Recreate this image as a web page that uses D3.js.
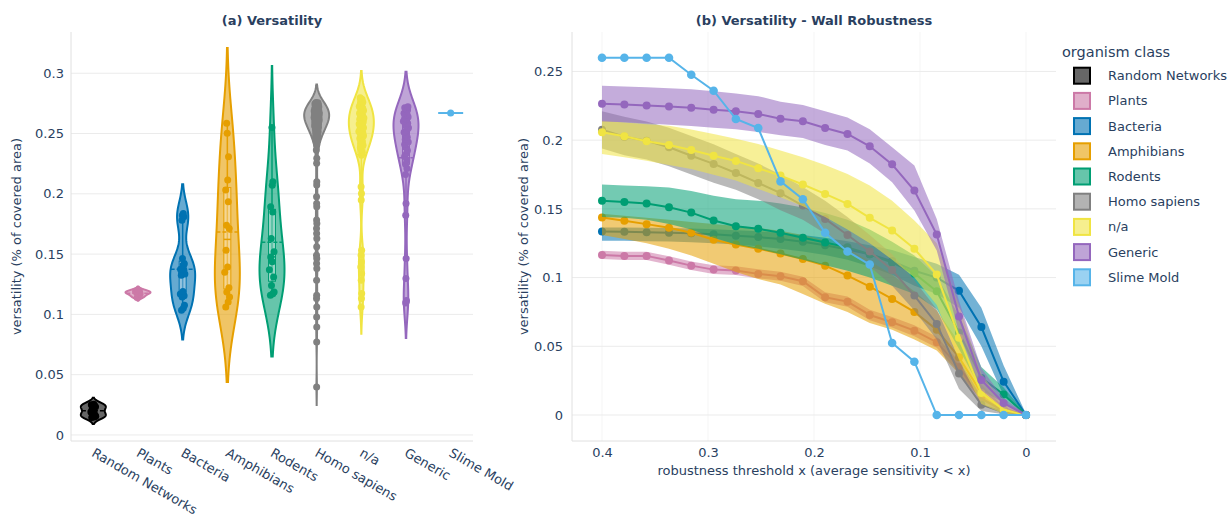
<!DOCTYPE html>
<html><head><meta charset="utf-8">
<script src="https://cdn.jsdelivr.net/npm/d3@7/dist/d3.min.js"></script>
<style>
body{margin:0;background:#fff;}
svg text{font-family:"DejaVu Sans",Verdana,sans-serif;fill:#2a3f5f;}
</style></head><body>
<svg id="c" width="1230" height="516"></svg>
<script>
// ---------- categories & colours ----------
const classes = ["Random Networks","Plants","Bacteria","Amphibians","Rodents","Homo sapiens","n/a","Generic","Slime Mold"];
const classColors = ["#000000","#CC79A7","#0072B2","#E69F00","#009E73","#808080","#F0E442","#9467BD","#56B4E9"];

// ---------- (a) versatility samples per class ----------
const vRandomNetworks = [0.0145,0.015,0.0155,0.016,0.0165,0.019,0.02,0.021,0.0235,0.024,0.0245,0.025,0.0255];
const vPlants = [0.114,0.1155,0.117,0.118,0.1185,0.119,0.1205];
const vBacteria = [0.1837,0.182,0.181,0.178,0.1463,0.142,0.141,0.1375,0.1366,0.1345,0.1335,0.1325,0.119,0.117,0.1155,0.1145,0.1076,0.105,0.1034];
const vAmphibians = [0.2585,0.2502,0.2308,0.2114,0.2031,0.1934,0.174,0.1712,0.1532,0.1394,0.135,0.122,0.1186,0.1145,0.1103,0.1062];
const vRodents = [0.2551,0.21,0.2072,0.1892,0.185,0.163,0.1519,0.1477,0.1436,0.137,0.131,0.124,0.1185,0.1172,0.1159];
const vHomoSapiens = [0.2405,0.2363,0.2294,0.2253,0.21,0.2073,0.1976,0.192,0.1893,0.1782,0.1754,0.1713,0.1671,0.163,0.1561,0.1491,0.1464,0.1422,0.1381,0.1284,0.1159,0.1132,0.1062,0.0979,0.0896,0.0772,0.0398,
 0.243,0.2442,0.2455,0.2465,0.2475,0.2484,0.2492,0.25,0.2507,0.2514,
 0.252,0.2526,0.2532,0.2538,0.2543,0.2548,0.2553,0.2558,0.2563,0.2567,
 0.2571,0.2575,0.2579,0.2583,0.2587,0.2591,0.2595,0.2599,0.2602,0.2605,
 0.2608,0.2611,0.2614,0.2617,0.262,0.2623,0.2626,0.2629,0.2632,0.2635,
 0.2638,0.2641,0.2644,0.2647,0.265,0.2652,0.2655,0.2657,0.266,0.2662,
 0.2665,0.2667,0.267,0.2672,0.2675,0.2677,0.268,0.2683,0.2686,0.2689,
 0.2692,0.2695,0.2698,0.2701,0.2704,0.2707,0.271,0.2713,0.2716,0.2719,
 0.2722,0.2725,0.2728,0.2731,0.2734,0.2737,0.274,0.2743,0.2746,0.2749,
 0.2752,0.2755,0.2758];
const vNA = [0.2059,0.2003,0.1948,0.1533,0.1491,0.1436,0.1394,0.1339,0.1284,0.1173,0.1132,0.1062,
 0.232,0.2345,0.2365,0.2385,0.2402,0.2418,0.2432,0.2445,0.2458,0.247,
 0.2482,0.2494,0.2505,0.2516,0.2527,0.2538,0.2548,0.2558,0.2568,0.2578,
 0.2588,0.2598,0.2608,0.2618,0.2628,0.2638,0.2648,0.2658,0.2668,0.2679,
 0.269,0.2701,0.2712,0.2724,0.2736,0.2748,0.276,0.2772,0.2784,0.2796];
const vGeneric = [0.192,0.1823,0.1464,0.1298,0.1115,0.1104,0.1095,
 0.216,0.221,0.2245,0.228,0.231,0.2335,0.236,0.2385,0.2408,0.243,
 0.245,0.247,0.249,0.251,0.253,0.2548,0.2565,0.2585,0.2602,0.262,
 0.2625,0.2638,0.265,0.2655,0.2668,0.2682,0.2695,0.2705,0.2714,0.2723];
const vSlimeMold = [0.267];
const violinValues = [vRandomNetworks,vPlants,vBacteria,vAmphibians,vRodents,vHomoSapiens,vNA,vGeneric,vSlimeMold];
const leftYTicks = [0,0.05,0.1,0.15,0.2,0.25,0.3];

// ---------- (b) robustness curves ----------
const thresholds = [0.4,0.3789,0.3579,0.3368,0.3158,0.2947,0.2737,0.2526,0.2316,0.2105,0.1895,0.1684,0.1474,0.1263,0.1053,0.0842,0.0632,0.0421,0.0211,0];
const plantsMean  = [0.1165,0.1158,0.1158,0.1124,0.1087,0.1058,0.1051,0.1027,0.101,0.0973,0.0857,0.0825,0.0728,0.0675,0.0614,0.053,0.035,0.012,0.003,0];
const plantsUpper = [0.1195,0.1188,0.1188,0.1155,0.1118,0.109,0.1083,0.106,0.1043,0.1007,0.0893,0.0862,0.0766,0.0714,0.0654,0.057,0.039,0.015,0.004,0.0003];
const plantsLower = [0.1135,0.1128,0.1128,0.1093,0.1056,0.1026,0.1019,0.0994,0.0977,0.0939,0.0821,0.0788,0.069,0.0636,0.0574,0.049,0.031,0.009,0.002,0];
const bacteriaMean  = [0.1335,0.1333,0.133,0.1327,0.1322,0.1315,0.1305,0.1295,0.128,0.126,0.1235,0.1205,0.117,0.112,0.105,0.1,0.0904,0.064,0.0243,0];
const bacteriaUpper = [0.1365,0.1365,0.1363,0.136,0.1357,0.1352,0.1345,0.1337,0.1325,0.131,0.129,0.1265,0.1235,0.12,0.115,0.11,0.102,0.078,0.036,0.001];
const bacteriaLower = [0.1268,0.1268,0.1265,0.1262,0.1257,0.125,0.124,0.1228,0.121,0.119,0.1165,0.113,0.108,0.102,0.094,0.088,0.078,0.05,0.014,0];
const amphibiansMean  = [0.1437,0.1413,0.1389,0.1362,0.1326,0.1275,0.124,0.121,0.1175,0.1135,0.1087,0.1015,0.0934,0.0845,0.075,0.062,0.042,0.016,0.004,0];
const amphibiansUpper = [0.1465,0.145,0.1435,0.142,0.1405,0.139,0.1375,0.136,0.134,0.131,0.127,0.121,0.112,0.102,0.09,0.076,0.053,0.022,0.006,0.0005];
const amphibiansLower = [0.131,0.128,0.125,0.121,0.116,0.11,0.104,0.099,0.095,0.088,0.081,0.075,0.067,0.062,0.055,0.047,0.03,0.011,0.002,0];
const rodentsMean  = [0.156,0.155,0.1539,0.1512,0.1473,0.1415,0.1374,0.1355,0.1326,0.129,0.1255,0.122,0.117,0.111,0.103,0.09,0.06,0.027,0.015,0];
const rodentsUpper = [0.1677,0.167,0.1665,0.1655,0.163,0.1595,0.157,0.156,0.154,0.151,0.147,0.142,0.135,0.126,0.116,0.101,0.072,0.035,0.02,0.001];
const rodentsLower = [0.144,0.1435,0.142,0.139,0.135,0.129,0.124,0.121,0.117,0.113,0.109,0.105,0.1,0.094,0.088,0.077,0.048,0.018,0.009,0];
const homoMean  = [0.2076,0.2025,0.1996,0.1948,0.1887,0.1827,0.1761,0.1689,0.1614,0.1524,0.1427,0.131,0.119,0.1056,0.0869,0.0663,0.0303,0.0075,0.002,0];
const homoUpper = [0.221,0.217,0.2135,0.209,0.203,0.197,0.19,0.183,0.175,0.166,0.156,0.144,0.131,0.117,0.098,0.077,0.041,0.013,0.004,0.0005];
const homoLower = [0.194,0.189,0.186,0.181,0.175,0.169,0.164,0.157,0.149,0.142,0.132,0.12,0.108,0.094,0.076,0.055,0.019,0.003,0.0005,0];
const naMean  = [0.2057,0.2028,0.1992,0.1965,0.1929,0.1887,0.1849,0.1795,0.1742,0.1677,0.1609,0.1536,0.1435,0.1343,0.121,0.1022,0.0563,0.016,0.0038,0];
const naUpper = [0.2142,0.2128,0.2115,0.2105,0.2078,0.2045,0.201,0.1972,0.1925,0.1875,0.182,0.1754,0.167,0.156,0.1415,0.125,0.08,0.03,0.008,0.0005];
const naLower = [0.19,0.1875,0.185,0.182,0.179,0.1748,0.1706,0.1645,0.1585,0.152,0.144,0.135,0.125,0.113,0.1,0.08,0.04,0.008,0.001,0];
const genericMean  = [0.2265,0.226,0.2253,0.2245,0.2236,0.2222,0.221,0.219,0.2156,0.2137,0.2088,0.2045,0.1955,0.1824,0.1633,0.1313,0.0716,0.0255,0.0087,0];
const genericUpper = [0.2395,0.239,0.2385,0.2378,0.237,0.2355,0.234,0.232,0.228,0.2255,0.221,0.2165,0.208,0.1948,0.1815,0.1427,0.083,0.034,0.012,0.001];
const genericLower = [0.2135,0.213,0.2122,0.2113,0.2103,0.209,0.208,0.206,0.2035,0.2015,0.1965,0.1925,0.183,0.1694,0.1488,0.1197,0.06,0.018,0.005,0];
const slimeMean = [0.26,0.26,0.26,0.26,0.2476,0.236,0.2154,0.2088,0.17,0.157,0.1326,0.119,0.1095,0.0524,0.0388,0,0,0,0,0];
const rightYTicks = [0,0.05,0.1,0.15,0.2,0.25];
const rightXTicks = [0.4,0.3,0.2,0.1,0];

const curves = [
  {cls:1, mean:plantsMean, up:plantsUpper, lo:plantsLower},
  {cls:2, mean:bacteriaMean, up:bacteriaUpper, lo:bacteriaLower},
  {cls:3, mean:amphibiansMean, up:amphibiansUpper, lo:amphibiansLower},
  {cls:4, mean:rodentsMean, up:rodentsUpper, lo:rodentsLower},
  {cls:5, mean:homoMean, up:homoUpper, lo:homoLower},
  {cls:6, mean:naMean, up:naUpper, lo:naLower},
  {cls:7, mean:genericMean, up:genericUpper, lo:genericLower},
  {cls:8, mean:slimeMean, up:null, lo:null}
];

// fixed (non-random) jitter pattern for sample points, fraction of local violin half-width
const jitterPattern = [-0.7,0.35,0.9,-0.2,0.6,-0.95,0.1,-0.5,0.8,-0.35,0.45,-0.8,0.2,0.7,-0.1,-0.6,0.95,-0.3,0.5,0];

// ---------- drawing ----------
const svg = d3.select("#c");
const fmt = v => String(+v.toFixed(2));
const rgba = (c,a) => { const r = d3.rgb(c); return `rgba(${r.r},${r.g},${r.b},${a})`; };
const GRID = "#ebebeb", AXIS = "#e0e0e0";

// ===== panel (a) =====
const L = {left:71, right:473, top:32, bottom:441};
const xa = d3.scaleBand().domain(classes).range([L.left, L.right]);
const ya = d3.scaleLinear().domain([-0.005, 0.3342]).range([L.bottom, L.top]);
const ga = svg.append("g");
ga.selectAll("line.grid").data(leftYTicks).join("line")
  .attr("x1",L.left).attr("x2",L.right).attr("y1",d=>ya(d)).attr("y2",d=>ya(d))
  .attr("stroke",GRID).attr("stroke-width",1);
ga.append("line").attr("x1",L.left).attr("x2",L.left).attr("y1",L.top).attr("y2",L.bottom).attr("stroke",AXIS);
ga.append("line").attr("x1",L.left).attr("x2",L.right).attr("y1",L.bottom).attr("y2",L.bottom).attr("stroke",AXIS);
const yAxA = ga.append("g").attr("transform",`translate(${L.left-4},0)`)
  .call(d3.axisLeft(ya).tickValues(leftYTicks).tickFormat(fmt).tickSize(0));
yAxA.select(".domain").remove();
yAxA.selectAll("text").attr("font-size",13).attr("font-family","DejaVu Sans").attr("fill","#2a3f5f");
const xAxA = ga.append("g").attr("transform",`translate(0,${L.bottom+6})`)
  .call(d3.axisBottom(xa).tickSize(0));
xAxA.select(".domain").remove();
xAxA.selectAll("text").attr("font-size",13).attr("font-family","DejaVu Sans").attr("fill","#2a3f5f")
  .attr("text-anchor","start").attr("dy","0.35em").attr("y",0).attr("x",0)
  .attr("transform","rotate(30) translate(2,4)");

function violin(vals, ci){
  const color = classColors[ci];
  const cx = xa(classes[ci]) + xa.bandwidth()/2;
  const HW = 12.5;
  const s = vals.slice().sort(d3.ascending);
  const n = s.length, mn = s[0], mx = s[n-1];
  const g = ga.append("g");
  if (mx - mn === 0){
    g.append("line").attr("x1",cx-HW).attr("x2",cx+HW).attr("y1",ya(mn)).attr("y2",ya(mn))
      .attr("stroke",color).attr("stroke-width",2);
    g.append("circle").attr("cx",cx).attr("cy",ya(mn)).attr("r",3.5).attr("fill",color);
    return;
  }
  const mean = d3.mean(s), sd = d3.deviation(s);
  const q1 = d3.quantile(s,0.25), q2 = d3.quantile(s,0.5), q3 = d3.quantile(s,0.75);
  const bw = Math.max(1.059*Math.min(sd,(q3-q1)/1.349)*Math.pow(n,-0.2), (mx-mn)/100);
  const lo = mn-2*bw, hi = mx+2*bw;
  const kde = v => d3.sum(s, xi => Math.exp(-0.5*((v-xi)/bw)**2));
  const steps = d3.range(0,201).map(i => lo + (hi-lo)*i/200);
  const dens = steps.map(v => ({v, d:kde(v)}));
  const maxd = d3.max(dens, d=>d.d);
  const hwAt = v => HW*kde(v)/maxd;
  const area = d3.area().y(d=>ya(d.v)).x0(d=>cx - HW*d.d/maxd).x1(d=>cx + HW*d.d/maxd);
  g.append("path").attr("d",area(dens)).attr("fill",rgba(color,0.6)).attr("stroke",color).attr("stroke-width",2);
  // inner box
  const iqr = q3-q1;
  const wLo = d3.min(s.filter(v=>v>=q1-1.5*iqr)), wHi = d3.max(s.filter(v=>v<=q3+1.5*iqr));
  g.append("line").attr("x1",cx).attr("x2",cx).attr("y1",ya(wLo)).attr("y2",ya(wHi)).attr("stroke",color).attr("stroke-width",1.5);
  g.append("rect").attr("x",cx-3.5).attr("width",7).attr("y",ya(q3)).attr("height",ya(q1)-ya(q3))
    .attr("fill","rgba(255,255,255,0.3)").attr("stroke",color).attr("stroke-width",1);
  g.append("line").attr("x1",cx-3.5).attr("x2",cx+3.5).attr("y1",ya(q2)).attr("y2",ya(q2)).attr("stroke",color).attr("stroke-width",1.5);
  // mean line across the violin
  const wm = hwAt(mean);
  g.append("line").attr("x1",cx-wm).attr("x2",cx+wm).attr("y1",ya(mean)).attr("y2",ya(mean))
    .attr("stroke",color).attr("stroke-width",1.5).attr("stroke-dasharray","4,2");
  // points (slightly jittered inside the violin with a fixed pattern)
  g.selectAll("circle").data(s).join("circle")
    .attr("cx",(d,i)=>cx + 0.22*hwAt(d)*jitterPattern[i % jitterPattern.length])
    .attr("cy",d=>ya(d)).attr("r",3.5).attr("fill",color);
}
violinValues.forEach((v,i)=>violin(v,i));

svg.append("text").attr("x",(L.left+L.right)/2).attr("y",25).attr("text-anchor","middle")
  .attr("font-size",13).attr("font-weight","bold").text("(a) Versatility");
svg.append("text").attr("transform",`translate(21,${(L.top+L.bottom)/2}) rotate(-90)`)
  .attr("text-anchor","middle").attr("font-size",13).text("versatility (% of covered area)");

// ===== panel (b) =====
const R = {left:572, right:1056, top:32, bottom:441};
const xb = d3.scaleLinear().domain([0.4283,-0.0283]).range([R.left,R.right]);
const yb = d3.scaleLinear().domain([-0.0189,0.2787]).range([R.bottom,R.top]);
const gb = svg.append("g");
gb.selectAll("line.vg").data(rightXTicks).join("line")
  .attr("x1",d=>xb(d)).attr("x2",d=>xb(d)).attr("y1",R.top).attr("y2",R.bottom).attr("stroke","#f5f5f5");
gb.selectAll("line.hg").data(rightYTicks).join("line")
  .attr("x1",R.left).attr("x2",R.right).attr("y1",d=>yb(d)).attr("y2",d=>yb(d)).attr("stroke",GRID);
gb.append("line").attr("x1",R.left).attr("x2",R.left).attr("y1",R.top).attr("y2",R.bottom).attr("stroke",AXIS);
gb.append("line").attr("x1",R.left).attr("x2",R.right).attr("y1",R.bottom).attr("y2",R.bottom).attr("stroke",AXIS);
const yAxB = gb.append("g").attr("transform",`translate(${R.left-6},0)`)
  .call(d3.axisLeft(yb).tickValues(rightYTicks).tickFormat(fmt).tickSize(0));
yAxB.select(".domain").remove();
yAxB.selectAll("text").attr("font-size",13).attr("font-family","DejaVu Sans").attr("fill","#2a3f5f");
const xAxB = gb.append("g").attr("transform",`translate(0,${R.bottom+4})`)
  .call(d3.axisBottom(xb).tickValues(rightXTicks).tickFormat(fmt).tickSize(0));
xAxB.select(".domain").remove();
xAxB.selectAll("text").attr("font-size",13).attr("font-family","DejaVu Sans").attr("fill","#2a3f5f");

curves.forEach(c=>{
  const color = classColors[c.cls];
  const g = gb.append("g");
  if (c.up){
    const area = d3.area().x((d,i)=>xb(thresholds[i])).y0((d,i)=>yb(c.lo[i])).y1((d,i)=>yb(c.up[i]));
    g.append("path").attr("d",area(c.mean)).attr("fill",rgba(color,0.55)).attr("stroke","none");
  }
  const line = d3.line().x((d,i)=>xb(thresholds[i])).y(d=>yb(d));
  g.append("path").attr("d",line(c.mean)).attr("fill","none").attr("stroke",color).attr("stroke-width",2);
  g.selectAll("circle").data(c.mean).join("circle")
    .attr("cx",(d,i)=>xb(thresholds[i])).attr("cy",d=>yb(d)).attr("r",c.up ? 4 : 4.3).attr("fill",color);
});

svg.append("text").attr("x",(R.left+R.right)/2).attr("y",25).attr("text-anchor","middle")
  .attr("font-size",13).attr("font-weight","bold").text("(b) Versatility - Wall Robustness");
svg.append("text").attr("transform",`translate(528,${(R.top+R.bottom)/2}) rotate(-90)`)
  .attr("text-anchor","middle").attr("font-size",13).text("versatility (% of covered area)");
svg.append("text").attr("x",(R.left+R.right)/2).attr("y",475).attr("text-anchor","middle")
  .attr("font-size",13).text("robustness threshold x (average sensitivity < x)");

// ===== legend =====
const lg = svg.append("g");
lg.append("text").attr("x",1062).attr("y",57).attr("font-size",14.5).text("organism class");
classes.forEach((c,i)=>{
  const yy = 75.7 + i*25.2;
  lg.append("rect").attr("x",1074).attr("y",yy-8).attr("width",16).attr("height",16)
    .attr("fill",rgba(classColors[i],0.6)).attr("stroke",classColors[i]).attr("stroke-width",2);
  lg.append("text").attr("x",1108).attr("y",yy+4.5).attr("font-size",13).text(c);
});
</script>
</body></html>
